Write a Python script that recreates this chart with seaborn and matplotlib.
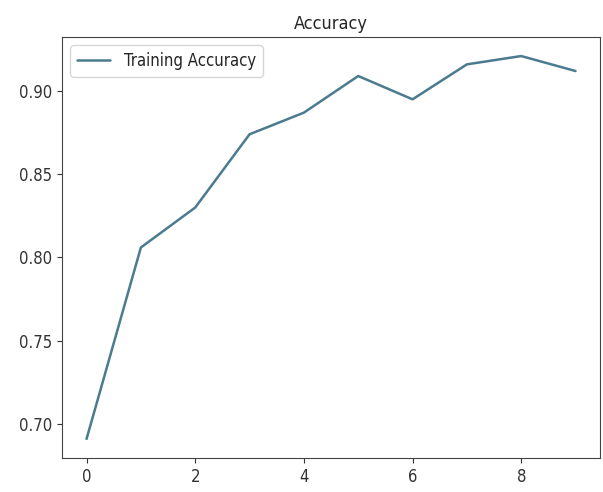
import matplotlib
matplotlib.use('Agg')
import matplotlib.pyplot as plt
import seaborn as sns
import pandas as pd

# accuracy per epoch
epochs = [0, 1, 2, 3, 4, 5, 6, 7, 8, 9]
train_acc = [0.691, 0.806, 0.830, 0.874, 0.887, 0.909, 0.895, 0.916, 0.921, 0.912]

df = pd.DataFrame({'epoch': epochs, 'acc': train_acc})

sns.set_style('ticks')
plt.rcParams['font.family'] = ['DejaVu Sans']
plt.rcParams['font.stretch'] = 'condensed'

fig = plt.figure(figsize=(6.03, 4.92), dpi=100)
ax = fig.add_axes([0.103, 0.069, 0.892, 0.856])

sns.lineplot(data=df, x='epoch', y='acc', color='#4a7b8f', linewidth=1.8,
             label='Training Accuracy', ax=ax)

ax.set_title('Accuracy', fontsize=13)
ax.set_xlabel('')
ax.set_ylabel('')
ax.set_xticks([0, 2, 4, 6, 8])
ax.set_yticks([0.70, 0.75, 0.80, 0.85, 0.90])
ax.tick_params(labelsize=12, color='#333333', labelcolor='#333333')
for s in ax.spines.values():
    s.set_visible(True)
    s.set_color('#444444')
ax.legend(loc='upper left', fontsize=12, frameon=True)

fig.savefig('out.png', dpi=100)
